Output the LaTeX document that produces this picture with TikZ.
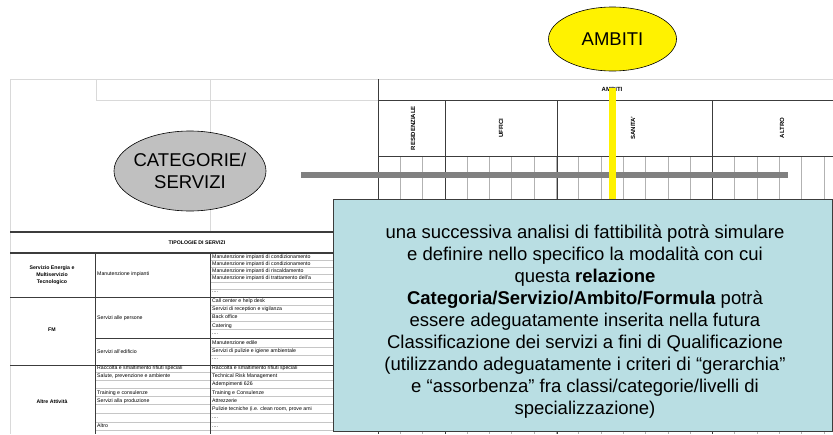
\documentclass[tikz,border=0pt]{standalone}
\usepackage{fontspec}
\setmainfont{Liberation Sans}
\usetikzlibrary{shapes.geometric}

\definecolor{noteteal}{RGB}{185,222,227}
\definecolor{ovalgray}{RGB}{192,192,192}
\definecolor{tabdark}{RGB}{60,60,60}

\tikzset{
  lightline/.style={gray!30, line width=0.8pt},
  darkline/.style={tabdark, line width=1pt},
  subline/.style={gray!60, line width=0.8pt},
  cellline/.style={gray!45, line width=0.5pt},
  oval/.style={ellipse, draw=black, line width=0.6pt, inner sep=-8pt, align=center,
    font=\fontsize{18.5}{22}\selectfont},
  headtxt/.style={inner sep=0pt, font=\fontsize{6}{7}\selectfont\bfseries},
  tabhead/.style={inner sep=0pt, align=center, font=\fontsize{5.2}{7}\selectfont\bfseries},
  tabtxt/.style={inner sep=0pt, anchor=west, font=\fontsize{5.2}{6}\selectfont},
  notebox/.style={draw=tabdark, line width=0.8pt, fill=noteteal},
  notetext/.style={align=center, inner sep=0pt, font=\fontsize{18.5}{22}\selectfont}
}

\begin{document}
\begin{tikzpicture}[x=1pt,y=-1pt]
\useasboundingbox (0,0) rectangle (833,434);

\draw[lightline] (10,434) -- (10,79) -- (833,79); %outer frame
\draw[lightline] (96,79) -- (96,100) -- (378,100);
\draw[lightline] (210,79) -- (210,232);

% ambiti grid
\foreach \k in {1,...,20} \draw[subline] ({378+22.3*\k},156) -- ({378+22.3*\k},434);
\draw[darkline] (378,79) -- (378,434);
\draw[darkline] (378,100) -- (833,100);
\draw[darkline] (378,156) -- (833,156);
\foreach \xx in {445,557,712} \draw[darkline] (\xx,100) -- (\xx,434);

\node[headtxt] (hambiti) at (612,89) {AMBITI};
\node[headtxt, rotate=90] (hres) at (413,128) {RESIDENZIALE};
\node[headtxt, rotate=90] (huff) at (501,128) {UFFICI};
\node[headtxt, rotate=90] (hsan) at (633,128) {SANITA'};
\node[headtxt, rotate=90] (halt) at (782,128) {ALTRO};

% tipologie di servizi
\foreach \yy in {260,267,274,282,289,305,313,321,329,347,355} \draw[cellline] (210,\yy) -- (378,\yy);
\foreach \yy in {372,380,388,396,404,413,422,430} \draw[cellline] (95,\yy) -- (378,\yy);
\draw[darkline, line width=1.4pt] (10,232) -- (378,232);
\draw[darkline, line width=1.4pt] (10,253) -- (378,253);
\draw[darkline] (95,253) -- (95,434);
\draw[darkline] (210,253) -- (210,434);
\draw[darkline] (10,297) -- (378,297);
\draw[darkline] (95,338) -- (378,338);
\draw[darkline] (10,365) -- (378,365);

\node[tabhead] (tipologie) at (197,243) {TIPOLOGIE DI SERVIZI};
\node[tabhead] (energia) at (52,275) {Servizio Energia e\\Multiservizio\\Tecnologico};
\node[tabhead] (fm) at (52,330) {FM};
\node[tabhead] (altre) at (52,402) {Altre Attività};

\node[tabtxt] (manut) at (97,274) {Manutenzione impianti};
\node[tabtxt] (persone) at (97,318) {Servizi alle persone};
\node[tabtxt] (edificio) at (97,352) {Servizi all'edificio};
\foreach \yy/\txt [count=\i] in {368/Raccolta e smaltimento rifiuti speciali,
    376/{Salute, prevenzione e ambiente}, 393/Training e consulenze,
    401/Servizi alla produzione, 426/Altro}
  \node[tabtxt] (attivita\i) at (97,\yy) {\txt};

\foreach \yy/\txt [count=\i] in {257/Manutenzione impianti di condizionamento,
    264/Manutenzione impianti di condizionamento, 271/Manutenzione impianti di riscaldamento,
    278/Manutenzione impianti di trattamento dell'a, 292/{....},
    301/Call center e help desk, 309/Servizi di reception e vigilanza, 317/Back office,
    326/Catering, 334/{....}, 343/Manutenzione edile,
    351/Servizi di pulizie e igiene ambientale, 359/{....},
    368/Raccolta e smaltimento rifiuti speciali, 376/Technical Risk Management,
    384/Adempimenti 626, 393/Training e Consulenze, 401/Attrezzerie,
    409/{Pulizie tecniche (i.e. clean room, prove ami}, 418/{....}, 427/{....}}
  \node[tabtxt] (servizio\i) at (212,\yy) {\txt};

% bars
\coordinate (barL) at (301,175);
\coordinate (barR) at (788,175);
\draw[gray, line width=6pt] (barL) -- (barR);
\coordinate (yelT) at (612.5,88);
\coordinate (yelB) at (612.5,199);
\draw[yellow, line width=7pt] (yelT) -- (yelB);

\node[oval, fill=yellow, minimum width=128, minimum height=64] (ambiti) at (612.5,39) {AMBITI};
\node[oval, fill=ovalgray, minimum width=152, minimum height=80] (categorie) at (190,171) {CATEGORIE/\\SERVIZI};

\node[notebox, minimum width=499, minimum height=232] (nota) at (582.5,315) {};
\node[notetext] (notatesto) at (585,322) {una successiva analisi di fattibilità potrà simulare\\
  e definire nello specifico la modalità con cui\\
  questa \textbf{relazione}\\
  \textbf{Categoria/Servizio/Ambito/Formula} potrà\\
  essere adeguatamente inserita nella futura\\
  Classificazione dei servizi a fini di Qualificazione\\
  (utilizzando adeguatamente i criteri di “gerarchia”\\
  e “assorbenza” fra classi/categorie/livelli di\\
  specializzazione)};

\end{tikzpicture}
\end{document}
